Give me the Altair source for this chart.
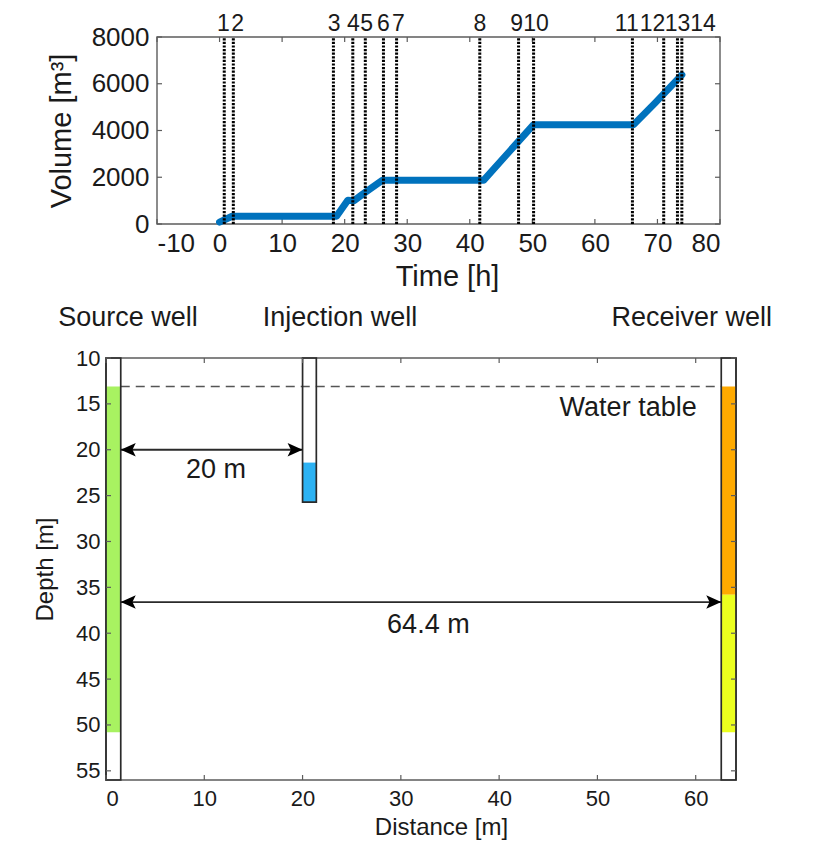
import altair as alt
import pandas as pd

FONT = "Liberation Sans"
INK = "#1a1a1a"
FRAME = "#5c5c5c"

# ---------------- top panel: injected volume ----------------
time_domain = [-10, 80]
volume_domain = [0, 8000]
time_ticks = [-10, 0, 10, 20, 30, 40, 50, 60, 70, 80]
volume_ticks = [0, 2000, 4000, 6000, 8000]

vol_time = [0.0, 2.0, 18.7, 20.5, 21.5, 23.0, 26.0, 42.2, 50.2, 66.2, 69.6, 73.9]
vol_m3 = [80, 330, 330, 1020, 1000, 1300, 1870, 1870, 4250, 4250, 5170, 6380]

event_time = [0.75, 2.2, 18.2, 21.3, 23.3, 26.2, 28.3, 41.6, 47.8, 50.2, 66.0, 71.0, 73.2, 73.9]
event_label = ["1", "2", "3", "4", "5", "6", "7", "8", "9", "10", "11", "12", "13", "14"]
event_label_time = [0.6, 2.9, 18.3, 21.4, 23.5, 26.2, 28.6, 41.6, 47.5, 50.6, 65.1, 69.2, 73.2, 77.3]

# ---------------- bottom panel: well geometry ----------------
dist_domain = [0, 64.1]
depth_domain = [10, 56]
dist_ticks = [0, 10, 20, 30, 40, 50, 60]
depth_ticks = [10, 15, 20, 25, 30, 35, 40, 45, 50, 55]

well_left = [0.0, 20.0, 62.6]
well_right = [1.5, 21.4, 64.1]
well_top = [10.0, 10.0, 10.0]
well_bottom = [56.0, 25.7, 56.0]

fill_left = [0.0, 20.0, 62.6, 62.6]
fill_right = [1.5, 21.4, 64.1, 64.1]
fill_top = [13.1, 21.4, 13.1, 35.8]
fill_bottom = [50.8, 25.7, 35.8, 50.8]
fill_color = ["#a8f261", "#2cb2f3", "#ffaa00", "#ebff1e"]

water_table_depth = [13.1]
water_table_from = [1.5]
water_table_to = [62.6]

arrow_depth = [20.0, 36.6]
arrow_from = [1.5, 1.5]
arrow_to = [20.0, 62.6]

center_label_text = ["20 m", "64.4 m"]
center_label_x = [11.2, 32.8]
center_label_depth = [22.2, 39.15]
right_label_text = ["Water table"]
right_label_x = [60.1]
right_label_depth = [15.5]

well_title = ["Source well", "Injection well", "Receiver well"]
well_title_x = [2.24, 23.8, 59.6]
well_title_depth = [6.5, 6.5, 6.5]

TICK_PX = 5

# ================= top chart =================
TOP_W, TOP_H, TOP_SHIFT = 614, 187, 51
xt = alt.Scale(domain=time_domain, range=[TOP_SHIFT, TOP_W], nice=False, zero=False)
yt = alt.Scale(domain=volume_domain, nice=False, zero=False)
x_axis_t = alt.Axis(values=time_ticks, title="Time [h]", grid=False, domain=False,
                    ticks=False, tickSize=0, labelFontSize=26, titleFontSize=29,
                    labelPadding=6, titlePadding=6, titleX=341,
                    labelExpr="'' + datum.value")
y_axis_t = alt.Axis(values=volume_ticks, title="Volume [m³]", grid=False, domain=False,
                    ticks=False, tickSize=0, labelFontSize=26, titleFontSize=29,
                    labelPadding=8, titlePadding=15, offset=-TOP_SHIFT,
                    labelExpr="'' + datum.value")


def TX(f):
    return alt.X(f, type="quantitative", scale=xt, axis=x_axis_t)


def TY(f):
    return alt.Y(f, type="quantitative", scale=yt, axis=y_axis_t)


top_plot_w = TOP_W - TOP_SHIFT
dv = (volume_domain[1] - volume_domain[0]) * TICK_PX / TOP_H
dt = (time_domain[1] - time_domain[0]) * TICK_PX / top_plot_w
tick_rows = []
for t in time_ticks:
    tick_rows.append({"x": t, "x2": t, "y": volume_domain[0], "y2": volume_domain[0] + dv})
    tick_rows.append({"x": t, "x2": t, "y": volume_domain[1] - dv, "y2": volume_domain[1]})
for v in volume_ticks:
    tick_rows.append({"x": time_domain[0], "x2": time_domain[0] + dt, "y": v, "y2": v})
    tick_rows.append({"x": time_domain[1] - dt, "x2": time_domain[1], "y": v, "y2": v})
top_ticks = alt.Chart(pd.DataFrame(tick_rows)).mark_rule(color=FRAME, strokeWidth=1.2).encode(
    x=TX("x"), x2="x2:Q", y=TY("y"), y2="y2:Q")

top_frame = alt.Chart(pd.DataFrame({"x": [time_domain[0]], "x2": [time_domain[1]],
                                    "y": [volume_domain[0]], "y2": [volume_domain[1]]})
                      ).mark_rect(fillOpacity=0, stroke=FRAME, strokeWidth=1.4).encode(
    x=TX("x"), x2="x2:Q", y=TY("y"), y2="y2:Q")

vol_df = pd.DataFrame({"t": vol_time, "v": vol_m3, "i": list(range(len(vol_time)))})
vol_line = alt.Chart(vol_df).mark_line(color="#0072BD", strokeWidth=7, strokeCap="round",
                                       strokeJoin="round").encode(
    x=TX("t"), y=TY("v"), order="i:Q")

ev_df = pd.DataFrame({"t": event_time, "lo": [volume_domain[0]] * len(event_time),
                      "hi": [volume_domain[1]] * len(event_time)})
ev_rules = alt.Chart(ev_df).mark_rule(color="black", strokeWidth=3, strokeDash=[2.2, 1.4]).encode(
    x=TX("t"), y=TY("lo"), y2="hi:Q")

lab_df = pd.DataFrame({"t": event_label_time, "lab": event_label,
                       "hi": [volume_domain[1]] * len(event_label)})
ev_text = alt.Chart(lab_df).mark_text(font=FONT, fontSize=23, color=INK, baseline="alphabetic",
                                      align="center", dy=-6).encode(
    x=TX("t"), y=TY("hi"), text="lab:N")

top = alt.layer(top_frame, top_ticks, vol_line, ev_rules, ev_text).properties(
    width=TOP_W, height=TOP_H)

# ================= bottom chart =================
BOT_W, BOT_H = 630, 422
xb = alt.Scale(domain=dist_domain, nice=False, zero=False)
yb = alt.Scale(domain=depth_domain, nice=False, zero=False, reverse=True)
x_axis_b = alt.Axis(values=dist_ticks, title="Distance [m]", grid=False, domain=False,
                    ticks=False, tickSize=0, labelFontSize=22, titleFontSize=24,
                    labelPadding=8, titlePadding=6, titleX=335,
                    labelExpr="'' + datum.value")
y_axis_b = alt.Axis(values=depth_ticks, title="Depth [m]", grid=False, domain=False,
                    ticks=False, tickSize=0, labelFontSize=22, titleFontSize=24,
                    labelPadding=6, titlePadding=18, labelExpr="'' + datum.value")


def BX(f):
    return alt.X(f, type="quantitative", scale=xb, axis=x_axis_b)


def BY(f):
    return alt.Y(f, type="quantitative", scale=yb, axis=y_axis_b)


dd = (depth_domain[1] - depth_domain[0]) * TICK_PX / BOT_H
dx = (dist_domain[1] - dist_domain[0]) * TICK_PX / BOT_W
btick_rows = []
for t in dist_ticks:
    btick_rows.append({"x": t, "x2": t, "y": depth_domain[1] - dd, "y2": depth_domain[1]})
    btick_rows.append({"x": t, "x2": t, "y": depth_domain[0], "y2": depth_domain[0] + dd})
for v in depth_ticks:
    btick_rows.append({"x": dist_domain[0], "x2": dist_domain[0] + dx, "y": v, "y2": v})
    btick_rows.append({"x": dist_domain[1] - dx, "x2": dist_domain[1], "y": v, "y2": v})
bot_ticks = alt.Chart(pd.DataFrame(btick_rows)).mark_rule(color=FRAME, strokeWidth=1.2).encode(
    x=BX("x"), x2="x2:Q", y=BY("y"), y2="y2:Q")

bot_frame = alt.Chart(pd.DataFrame({"x": [dist_domain[0]], "x2": [dist_domain[1]],
                                    "y": [depth_domain[0]], "y2": [depth_domain[1]]})
                      ).mark_rect(fillOpacity=0, stroke=FRAME, strokeWidth=1.4).encode(
    x=BX("x"), x2="x2:Q", y=BY("y"), y2="y2:Q")

fill_df = pd.DataFrame({"x": fill_left, "x2": fill_right, "y": fill_top, "y2": fill_bottom,
                        "c": fill_color})
fills = alt.Chart(fill_df).mark_rect().encode(
    x=BX("x"), x2="x2:Q", y=BY("y"), y2="y2:Q", color=alt.Color("c:N", scale=None))

wt_df = pd.DataFrame({"x": water_table_from, "x2": water_table_to, "y": water_table_depth})
water = alt.Chart(wt_df).mark_rule(color="#555555", strokeWidth=1.5, strokeDash=[9, 6]).encode(
    x=BX("x"), x2="x2:Q", y=BY("y"))

well_df = pd.DataFrame({"x": well_left, "x2": well_right, "y": well_top, "y2": well_bottom})
wells = alt.Chart(well_df).mark_rect(fillOpacity=0, stroke="#2a2a2a", strokeWidth=1.7).encode(
    x=BX("x"), x2="x2:Q", y=BY("y"), y2="y2:Q")

arr_df = pd.DataFrame({"x": arrow_from, "x2": arrow_to, "y": arrow_depth})
arr_lines = alt.Chart(arr_df).mark_rule(color="#2a2a2a", strokeWidth=1.8).encode(
    x=BX("x"), x2="x2:Q", y=BY("y"))
LEFT_HEAD = "M0,0L1,-0.45L0.78,0L1,0.45Z"
RIGHT_HEAD = "M0,0L-1,-0.45L-0.78,0L-1,0.45Z"
heads_l = alt.Chart(arr_df).mark_point(shape=LEFT_HEAD, filled=True, size=900, color="black",
                                       opacity=1, strokeWidth=0).encode(x=BX("x"), y=BY("y"))
heads_r = alt.Chart(arr_df).mark_point(shape=RIGHT_HEAD, filled=True, size=900, color="black",
                                       opacity=1, strokeWidth=0).encode(x=BX("x2"), y=BY("y"))

cl_df = pd.DataFrame({"x": center_label_x, "y": center_label_depth, "s": center_label_text})
c_labels = alt.Chart(cl_df).mark_text(font=FONT, fontSize=27, color=INK, align="center",
                                      baseline="middle").encode(x=BX("x"), y=BY("y"), text="s:N")
rl_df = pd.DataFrame({"x": right_label_x, "y": right_label_depth, "s": right_label_text})
r_labels = alt.Chart(rl_df).mark_text(font=FONT, fontSize=27, color=INK, align="right",
                                      baseline="middle").encode(x=BX("x"), y=BY("y"), text="s:N")
wt_title_df = pd.DataFrame({"x": well_title_x, "y": well_title_depth, "s": well_title})
w_titles = alt.Chart(wt_title_df).mark_text(font=FONT, fontSize=27, color=INK, align="center",
                                            baseline="alphabetic").encode(
    x=BX("x"), y=BY("y"), text="s:N")

bottom = alt.layer(bot_frame, fills, water, wells, bot_ticks, arr_lines, heads_l, heads_r,
                   c_labels, r_labels, w_titles).properties(width=BOT_W, height=BOT_H)

chart = alt.vconcat(top, bottom, spacing=134, bounds="flush").properties(
    padding={"left": 25, "top": 5, "right": 5, "bottom": 5}
).configure_view(strokeWidth=0).configure_axis(
    labelFont=FONT, titleFont=FONT, labelColor=INK, titleColor=INK, titleFontWeight="normal"
)

chart.save("out.html", embed_options={"renderer": "svg", "actions": False})
